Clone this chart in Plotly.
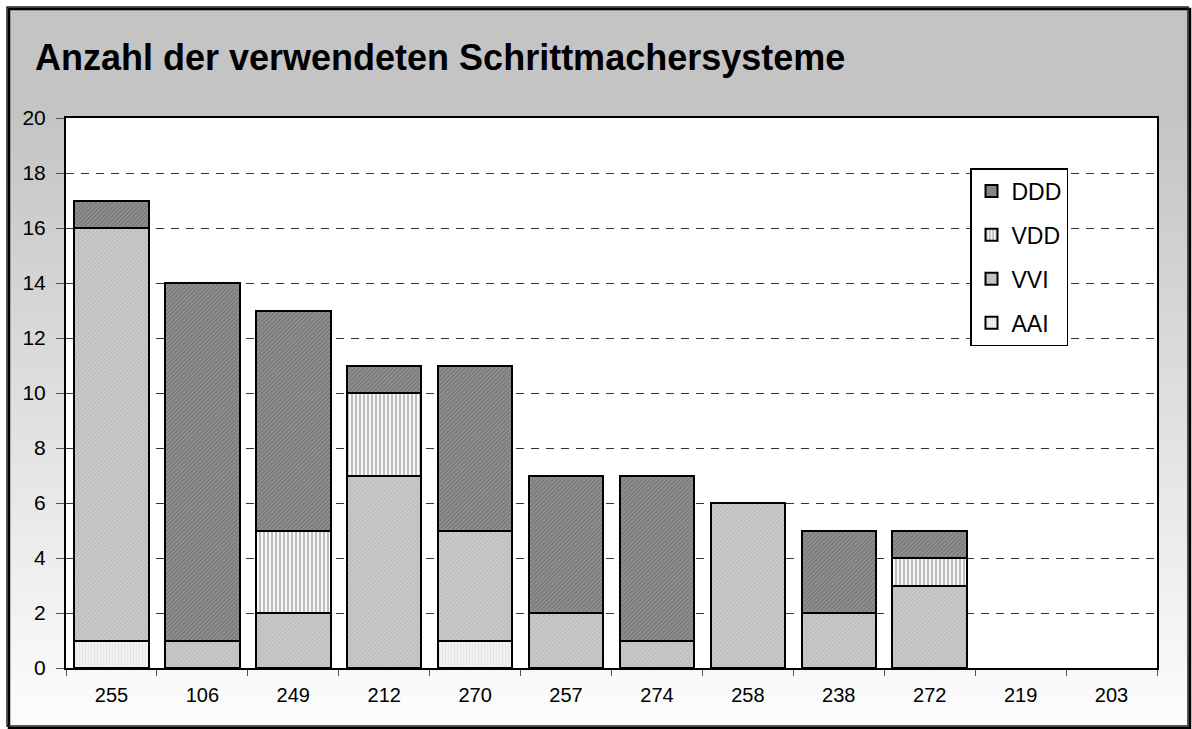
import plotly.graph_objects as go

# Herzschrittmacher-Modelle (x-Achse) und Anzahl je System
modelle = ["255", "106", "249", "212", "270", "257", "274", "258", "238", "272", "219", "203"]
aai = [1, 0, 0, 0, 1, 0, 0, 0, 0, 0, 0, 0]
vvi = [15, 1, 2, 7, 4, 2, 1, 6, 2, 3, 0, 0]
vdd = [0, 0, 3, 3, 0, 0, 0, 0, 0, 1, 0, 0]
ddd = [1, 13, 8, 1, 6, 5, 6, 0, 3, 1, 0, 0]

W, H = 1192, 729
L, R, T, B = 66, 1157, 118, 668


def px(x):
  return (x - L) / (R - L)


def py(y):
  return (B - y) / (B - T)


fig = go.Figure()

# name, values, bg, fg, pattern shape, size, solidity, legend rank
systeme = [
  ("AAI", aai, "#f6f6f6", "#d2d2d2", "|", 3, 0.5, 4),
  ("VVI", vvi, "#cdcdcd", "#a9a9a9", "/", 3, 0.5, 3),
  ("VDD", vdd, "#ffffff", "#7c7c7c", "|", 4, 0.55, 2),
  ("DDD", ddd, "#949494", "#5a5a5a", "/", 3, 0.5, 1),
]
for name, vals, bg, fg, shp, size, sol, rank in systeme:
  # leere Segmente (0) nicht als Strich zeichnen
  fig.add_trace(go.Bar(
    x=modelle, y=[v if v else None for v in vals], name=name,
    legendgroup=name, legendrank=rank,
    marker=dict(color=bg, line=dict(color="black", width=2),
                pattern=dict(shape=shp, bgcolor=bg, fgcolor=fg, size=size, solidity=sol)),
  ))

# grauer Verlauf als Hintergrund
shapes = []
step = 6
y = 7
while y < 726:
  y2 = min(y + step, 726)
  t = max(0.0, (y - 110) / 600)
  g = int(round(196 + (252 - 196) * min(t, 1.0)))
  c = "rgb(%d,%d,%d)" % (g, g, g)
  shapes.append(dict(type="rect", xref="paper", yref="paper", layer="below",
                     x0=px(7), x1=px(1189), y0=py(y2), y1=py(y),
                     fillcolor=c, line=dict(width=0)))
  y = y2
shapes.append(dict(type="rect", xref="paper", yref="paper", layer="below",
                   x0=0, x1=1, y0=0, y1=1, fillcolor="white", line=dict(width=0)))
# Rahmen mit Schatten
shapes.append(dict(type="rect", xref="paper", yref="paper", layer="above",
                   x0=px(9), x1=px(1190), y0=py(728), y1=py(9),
                   line=dict(color="black", width=2.5)))
shapes.append(dict(type="rect", xref="paper", yref="paper", layer="above",
                   x0=px(7), x1=px(1188), y0=py(726), y1=py(7),
                   line=dict(color="#222222", width=1.5)))

fig.update_layout(
  width=W, height=H,
  margin=dict(l=L, r=W - R, t=T, b=H - B),
  barmode="stack", bargap=0.18,
  paper_bgcolor="white", plot_bgcolor="white",
  font=dict(family="Liberation Sans, Arial", color="black"),
  title=dict(text="<b>Anzahl der verwendeten Schrittmachersysteme</b>",
             x=35 / W, xanchor="left", y=1 - 57 / H, yanchor="middle",
             font=dict(size=36, color="black")),
  legend=dict(x=px(970), y=py(168), xanchor="left", yanchor="top",
              traceorder="grouped", tracegroupgap=11,
              bgcolor="white", bordercolor="black", borderwidth=1.5,
              font=dict(size=23), itemwidth=30, entrywidth=100),
  shapes=shapes,
)
fig.update_yaxes(range=[0, 20], dtick=2, showgrid=True, gridcolor="#333333", gridwidth=1,
                 griddash="8px,7px", ticks="outside", ticklen=8, tickcolor="#555555",
                 showline=True, linecolor="black", linewidth=2, mirror=True,
                 tickfont=dict(size=21), ticklabelstandoff=6, zeroline=False)
fig.update_xaxes(type="category", ticks="outside", tickson="boundaries", ticklen=6,
                 tickcolor="#555555", showline=True, linecolor="black", linewidth=2,
                 mirror=True, tickfont=dict(size=20), ticklabelstandoff=8)

fig.write_html("out.html", config={"displayModeBar": False},
               post_script="document.body.style.margin='0';")
